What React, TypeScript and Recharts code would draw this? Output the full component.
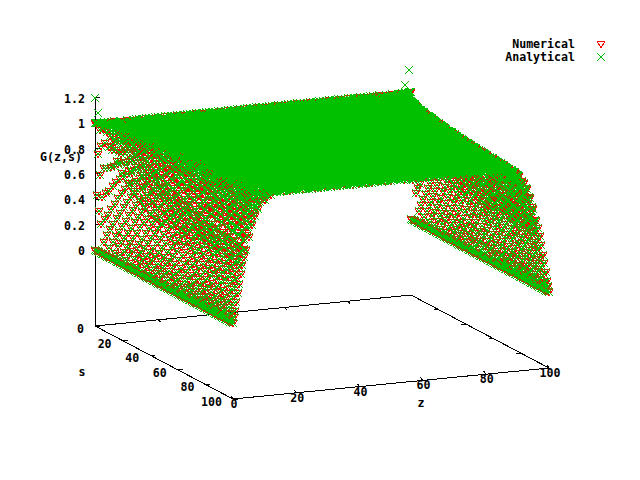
import React from "react";
import { ScatterChart, Scatter, XAxis, YAxis, Legend } from "recharts";

const RED = "#ff0000";
const GREEN = "#00c000";
const FONT = "'DejaVu Sans Mono', 'Liberation Mono', monospace";

const zTicks = [0, 20, 40, 60, 80, 100];
const sTicks = [0, 20, 40, 60, 80, 100];
const gTicks = [0, 0.2, 0.4, 0.6, 0.8, 1, 1.2];

const edgeDistances = [0.3, 0.6, 1, 1.5, 2, 2.5, 3, 3.5, 4, 5, 6, 7, 8, 10, 12];
const edgeRows: [number, number[]][] = [
  [1, [0.44, 0.76, 0.95, 1, 1, 1, 1, 1, 1, 1, 1, 1, 1, 1, 1]],
  [2, [0.32, 0.6, 0.83, 0.96, 0.99, 1, 1, 1, 1, 1, 1, 1, 1, 1, 1]],
  [4, [0.23, 0.44, 0.67, 0.86, 0.95, 0.99, 1, 1, 1, 1, 1, 1, 1, 1, 1]],
  [8, [0.16, 0.32, 0.51, 0.7, 0.83, 0.92, 0.96, 0.98, 0.99, 1, 1, 1, 1, 1, 1]],
  [12, [0.13, 0.27, 0.43, 0.6, 0.74, 0.84, 0.91, 0.95, 0.98, 1, 1, 1, 1, 1, 1]],
  [16, [0.12, 0.23, 0.38, 0.54, 0.67, 0.78, 0.86, 0.91, 0.95, 0.99, 1, 1, 1, 1, 1]],
  [20, [0.1, 0.21, 0.34, 0.49, 0.62, 0.73, 0.81, 0.87, 0.92, 0.97, 0.99, 1, 1, 1, 1]],
  [24, [0.1, 0.19, 0.31, 0.45, 0.58, 0.68, 0.77, 0.84, 0.89, 0.95, 0.98, 1, 1, 1, 1]],
  [28, [0.09, 0.18, 0.29, 0.42, 0.54, 0.65, 0.73, 0.81, 0.86, 0.94, 0.97, 0.99, 1, 1, 1]],
  [32, [0.08, 0.16, 0.27, 0.4, 0.51, 0.61, 0.7, 0.78, 0.83, 0.92, 0.96, 0.98, 0.99, 1, 1]],
  [36, [0.08, 0.16, 0.26, 0.38, 0.48, 0.59, 0.67, 0.75, 0.81, 0.9, 0.95, 0.98, 0.99, 1, 1]],
  [40, [0.07, 0.15, 0.24, 0.36, 0.47, 0.56, 0.65, 0.72, 0.79, 0.88, 0.94, 0.97, 0.99, 1, 1]],
  [44, [0.07, 0.14, 0.23, 0.34, 0.45, 0.54, 0.63, 0.7, 0.76, 0.86, 0.92, 0.96, 0.98, 1, 1]],
  [48, [0.07, 0.13, 0.22, 0.33, 0.43, 0.52, 0.6, 0.68, 0.74, 0.84, 0.91, 0.95, 0.98, 1, 1]],
  [52, [0.06, 0.13, 0.21, 0.32, 0.41, 0.5, 0.59, 0.66, 0.72, 0.83, 0.9, 0.94, 0.97, 0.99, 1]],
  [56, [0.06, 0.12, 0.21, 0.31, 0.4, 0.48, 0.57, 0.64, 0.7, 0.81, 0.88, 0.93, 0.96, 0.99, 1]],
  [60, [0.06, 0.12, 0.2, 0.3, 0.39, 0.47, 0.55, 0.63, 0.69, 0.8, 0.87, 0.92, 0.96, 0.99, 1]],
  [64, [0.06, 0.12, 0.19, 0.29, 0.38, 0.46, 0.54, 0.61, 0.67, 0.78, 0.86, 0.91, 0.95, 0.99, 1]],
  [68, [0.06, 0.11, 0.19, 0.28, 0.37, 0.45, 0.52, 0.6, 0.66, 0.76, 0.85, 0.9, 0.94, 0.98, 1]],
  [72, [0.05, 0.11, 0.18, 0.27, 0.36, 0.44, 0.51, 0.58, 0.64, 0.75, 0.83, 0.89, 0.93, 0.98, 0.99]],
  [76, [0.05, 0.11, 0.18, 0.27, 0.35, 0.43, 0.5, 0.57, 0.63, 0.74, 0.82, 0.88, 0.93, 0.98, 0.99]],
  [80, [0.05, 0.1, 0.17, 0.26, 0.34, 0.42, 0.49, 0.55, 0.62, 0.73, 0.81, 0.87, 0.92, 0.97, 0.99]],
  [84, [0.05, 0.1, 0.17, 0.25, 0.33, 0.41, 0.48, 0.55, 0.6, 0.71, 0.8, 0.87, 0.91, 0.97, 0.99]],
  [88, [0.05, 0.1, 0.17, 0.25, 0.32, 0.4, 0.47, 0.54, 0.6, 0.7, 0.79, 0.86, 0.91, 0.96, 0.99]],
  [92, [0.05, 0.1, 0.16, 0.24, 0.32, 0.39, 0.46, 0.53, 0.59, 0.7, 0.78, 0.85, 0.9, 0.96, 0.98]],
  [96, [0.05, 0.1, 0.16, 0.24, 0.31, 0.38, 0.45, 0.52, 0.58, 0.68, 0.77, 0.84, 0.89, 0.96, 0.98]],
  [100, [0.05, 0.09, 0.16, 0.23, 0.3, 0.38, 0.45, 0.51, 0.57, 0.67, 0.76, 0.83, 0.88, 0.95, 0.98]],
];

// in-between rows, sampled at the in-between distances
const midDistances = [0.15, 0.45, 0.8, 1.25, 1.75, 2.25, 2.75, 3.25, 3.75, 4.5, 5.5, 6.5, 7.5, 9, 11];
const midRows: [number, number[]][] = [
  [6, [0.1, 0.28, 0.48, 0.68, 0.84, 0.93, 0.97, 0.99, 1, 1, 1, 1, 1, 1, 1]],
  [10, [0.07, 0.22, 0.38, 0.56, 0.72, 0.84, 0.91, 0.96, 0.98, 1, 1, 1, 1, 1, 1]],
  [14, [0.06, 0.19, 0.33, 0.49, 0.64, 0.76, 0.85, 0.91, 0.95, 0.98, 1, 1, 1, 1, 1]],
  [18, [0.06, 0.16, 0.29, 0.44, 0.58, 0.7, 0.8, 0.87, 0.92, 0.96, 0.99, 1, 1, 1, 1]],
  [22, [0.05, 0.15, 0.26, 0.4, 0.54, 0.65, 0.75, 0.83, 0.88, 0.94, 0.98, 0.99, 1, 1, 1]],
  [26, [0.05, 0.14, 0.24, 0.37, 0.5, 0.61, 0.71, 0.79, 0.85, 0.92, 0.97, 0.99, 1, 1, 1]],
  [30, [0.04, 0.13, 0.22, 0.35, 0.47, 0.58, 0.67, 0.76, 0.82, 0.89, 0.95, 0.98, 0.99, 1, 1]],
  [34, [0.04, 0.12, 0.21, 0.33, 0.44, 0.55, 0.65, 0.73, 0.79, 0.87, 0.94, 0.97, 0.99, 1, 1]],
  [38, [0.04, 0.11, 0.2, 0.31, 0.42, 0.53, 0.62, 0.7, 0.77, 0.85, 0.92, 0.96, 0.98, 1, 1]],
  [42, [0.04, 0.11, 0.19, 0.3, 0.4, 0.5, 0.6, 0.67, 0.74, 0.83, 0.9, 0.95, 0.98, 0.99, 1]],
  [46, [0.03, 0.1, 0.18, 0.28, 0.39, 0.48, 0.57, 0.65, 0.72, 0.81, 0.89, 0.94, 0.97, 0.99, 1]],
  [50, [0.03, 0.1, 0.18, 0.27, 0.37, 0.47, 0.55, 0.63, 0.7, 0.79, 0.87, 0.93, 0.96, 0.99, 1]],
  [54, [0.03, 0.1, 0.17, 0.26, 0.36, 0.45, 0.54, 0.61, 0.68, 0.77, 0.86, 0.92, 0.96, 0.98, 1]],
  [58, [0.03, 0.09, 0.16, 0.25, 0.35, 0.44, 0.52, 0.6, 0.67, 0.75, 0.84, 0.9, 0.95, 0.98, 1]],
  [62, [0.03, 0.09, 0.16, 0.24, 0.34, 0.42, 0.51, 0.58, 0.65, 0.74, 0.83, 0.89, 0.94, 0.97, 0.99]],
  [66, [0.03, 0.09, 0.15, 0.24, 0.33, 0.41, 0.49, 0.57, 0.64, 0.72, 0.82, 0.88, 0.93, 0.97, 0.99]],
  [70, [0.03, 0.08, 0.15, 0.23, 0.32, 0.4, 0.48, 0.55, 0.62, 0.71, 0.81, 0.87, 0.92, 0.97, 0.99]],
  [74, [0.03, 0.08, 0.14, 0.22, 0.31, 0.39, 0.47, 0.54, 0.61, 0.7, 0.79, 0.86, 0.91, 0.96, 0.99]],
  [78, [0.03, 0.08, 0.14, 0.22, 0.3, 0.38, 0.46, 0.53, 0.6, 0.69, 0.78, 0.85, 0.9, 0.95, 0.99]],
  [82, [0.03, 0.08, 0.14, 0.21, 0.29, 0.37, 0.45, 0.52, 0.59, 0.68, 0.77, 0.84, 0.89, 0.95, 0.98]],
  [86, [0.03, 0.08, 0.13, 0.21, 0.29, 0.36, 0.44, 0.51, 0.58, 0.67, 0.76, 0.83, 0.89, 0.94, 0.98]],
  [90, [0.02, 0.07, 0.13, 0.2, 0.28, 0.36, 0.43, 0.5, 0.57, 0.66, 0.75, 0.82, 0.88, 0.94, 0.98]],
  [94, [0.02, 0.07, 0.13, 0.2, 0.28, 0.35, 0.42, 0.49, 0.56, 0.65, 0.74, 0.81, 0.87, 0.93, 0.97]],
  [98, [0.02, 0.07, 0.13, 0.2, 0.27, 0.34, 0.42, 0.48, 0.55, 0.64, 0.73, 0.8, 0.86, 0.93, 0.97]],
];

// the upper part of the flank is packed solid in the picture, so it gets two more sets of rows
const upperDistances = [2, 3, 4, 5, 6, 7, 8, 9, 10, 11, 12];
const upperRows: [number, number[]][] = [
  [3, [0.98, 1, 1, 1, 1, 1, 1, 1, 1, 1, 1]],
  [7, [0.86, 0.97, 1, 1, 1, 1, 1, 1, 1, 1, 1]],
  [11, [0.76, 0.92, 0.98, 1, 1, 1, 1, 1, 1, 1, 1]],
  [15, [0.69, 0.87, 0.96, 0.99, 1, 1, 1, 1, 1, 1, 1]],
  [19, [0.63, 0.82, 0.93, 0.98, 0.99, 1, 1, 1, 1, 1, 1]],
  [23, [0.59, 0.78, 0.9, 0.96, 0.99, 1, 1, 1, 1, 1, 1]],
  [27, [0.55, 0.74, 0.87, 0.94, 0.98, 0.99, 1, 1, 1, 1, 1]],
  [31, [0.52, 0.71, 0.84, 0.92, 0.97, 0.99, 1, 1, 1, 1, 1]],
  [35, [0.49, 0.68, 0.82, 0.9, 0.95, 0.98, 0.99, 1, 1, 1, 1]],
  [39, [0.47, 0.66, 0.79, 0.88, 0.94, 0.97, 0.99, 1, 1, 1, 1]],
  [43, [0.45, 0.63, 0.77, 0.87, 0.93, 0.96, 0.98, 0.99, 1, 1, 1]],
  [47, [0.43, 0.61, 0.75, 0.85, 0.91, 0.95, 0.98, 0.99, 1, 1, 1]],
  [51, [0.42, 0.59, 0.73, 0.83, 0.9, 0.95, 0.97, 0.99, 0.99, 1, 1]],
  [55, [0.4, 0.57, 0.71, 0.82, 0.89, 0.94, 0.97, 0.98, 0.99, 1, 1]],
  [59, [0.39, 0.55, 0.69, 0.8, 0.87, 0.93, 0.96, 0.98, 0.99, 1, 1]],
  [63, [0.38, 0.54, 0.68, 0.78, 0.86, 0.92, 0.95, 0.97, 0.99, 0.99, 1]],
  [67, [0.37, 0.52, 0.66, 0.77, 0.85, 0.91, 0.94, 0.97, 0.98, 0.99, 1]],
  [71, [0.36, 0.51, 0.65, 0.75, 0.84, 0.9, 0.94, 0.97, 0.98, 0.99, 1]],
  [75, [0.35, 0.5, 0.63, 0.74, 0.83, 0.89, 0.93, 0.96, 0.98, 0.99, 0.99]],
  [79, [0.34, 0.49, 0.62, 0.73, 0.81, 0.88, 0.92, 0.96, 0.97, 0.99, 0.99]],
  [83, [0.33, 0.48, 0.61, 0.72, 0.8, 0.87, 0.92, 0.95, 0.97, 0.98, 0.99]],
  [87, [0.32, 0.47, 0.6, 0.71, 0.79, 0.86, 0.91, 0.95, 0.97, 0.98, 0.99]],
  [91, [0.32, 0.46, 0.59, 0.7, 0.78, 0.85, 0.9, 0.94, 0.96, 0.98, 0.99]],
  [95, [0.31, 0.45, 0.58, 0.69, 0.77, 0.84, 0.89, 0.94, 0.96, 0.97, 0.98]],
  [99, [0.3, 0.44, 0.57, 0.68, 0.76, 0.83, 0.89, 0.93, 0.95, 0.97, 0.98]],
];
const upperMidDistances = [2.5, 3.5, 4.5, 5.5, 6.5, 7.5, 8.5, 9.5, 10.5, 11.5];
const upperMidRows: [number, number[]][] = [
  [5, [0.97, 1, 1, 1, 1, 1, 1, 1, 1, 1]],
  [9, [0.9, 0.98, 1, 1, 1, 1, 1, 1, 1, 1]],
  [13, [0.83, 0.94, 0.99, 1, 1, 1, 1, 1, 1, 1]],
  [17, [0.76, 0.9, 0.97, 0.99, 1, 1, 1, 1, 1, 1]],
  [21, [0.72, 0.87, 0.95, 0.98, 1, 1, 1, 1, 1, 1]],
  [25, [0.67, 0.83, 0.92, 0.97, 0.99, 1, 1, 1, 1, 1]],
  [29, [0.64, 0.8, 0.9, 0.96, 0.98, 0.99, 1, 1, 1, 1]],
  [33, [0.6, 0.77, 0.88, 0.94, 0.97, 0.99, 1, 1, 1, 1]],
  [37, [0.58, 0.74, 0.85, 0.92, 0.96, 0.98, 0.99, 1, 1, 1]],
  [41, [0.55, 0.72, 0.83, 0.91, 0.95, 0.98, 0.99, 1, 1, 1]],
  [45, [0.54, 0.69, 0.81, 0.89, 0.94, 0.97, 0.99, 0.99, 1, 1]],
  [49, [0.52, 0.67, 0.79, 0.88, 0.93, 0.97, 0.98, 0.99, 1, 1]],
  [53, [0.5, 0.66, 0.78, 0.86, 0.92, 0.96, 0.98, 0.99, 1, 1]],
  [57, [0.48, 0.63, 0.76, 0.85, 0.91, 0.95, 0.97, 0.99, 0.99, 1]],
  [61, [0.47, 0.62, 0.74, 0.83, 0.9, 0.94, 0.97, 0.98, 0.99, 1]],
  [65, [0.45, 0.6, 0.72, 0.82, 0.89, 0.93, 0.96, 0.98, 0.99, 1]],
  [69, [0.44, 0.59, 0.71, 0.81, 0.88, 0.93, 0.96, 0.98, 0.99, 0.99]],
  [73, [0.43, 0.58, 0.7, 0.8, 0.87, 0.92, 0.95, 0.97, 0.99, 0.99]],
  [77, [0.42, 0.57, 0.69, 0.78, 0.86, 0.91, 0.95, 0.97, 0.98, 0.99]],
  [81, [0.41, 0.56, 0.68, 0.77, 0.85, 0.9, 0.94, 0.97, 0.98, 0.99]],
  [85, [0.4, 0.55, 0.66, 0.76, 0.84, 0.9, 0.94, 0.96, 0.98, 0.99]],
  [89, [0.39, 0.54, 0.65, 0.75, 0.83, 0.89, 0.93, 0.96, 0.98, 0.99]],
  [93, [0.38, 0.53, 0.64, 0.74, 0.82, 0.88, 0.93, 0.95, 0.97, 0.99]],
  [97, [0.38, 0.52, 0.63, 0.73, 0.81, 0.87, 0.92, 0.95, 0.97, 0.98]],
];

// flat top of the surface, G reads 1 here
const plateauZ = [13, 14, 15, 16, 17, 18, 19, 20, 21, 22, 23, 24, 25, 26, 27, 28, 29, 30, 31, 32, 33, 34, 35, 36, 37, 38, 39, 40, 41, 42, 43, 44, 45, 46, 47, 48, 49, 50, 51, 52, 53, 54, 55, 56, 57, 58, 59, 60, 61, 62, 63, 64, 65, 66, 67, 68, 69, 70, 71, 72, 73, 74, 75, 76, 77, 78, 79, 80, 81, 82, 83, 84, 85, 86, 87];
const sValues = [0, 1, 2, 3, 4, 5, 6, 7, 8, 9, 10, 11, 12, 13, 14, 15, 16, 17, 18, 19, 20, 21, 22, 23, 24, 25, 26, 27, 28, 29, 30, 31, 32, 33, 34, 35, 36, 37, 38, 39, 40, 41, 42, 43, 44, 45, 46, 47, 48, 49, 50, 51, 52, 53, 54, 55, 56, 57, 58, 59, 60, 61, 62, 63, 64, 65, 66, 67, 68, 69, 70, 71, 72, 73, 74, 75, 76, 77, 78, 79, 80, 81, 82, 83, 84, 85, 86, 87, 88, 89, 90, 91, 92, 93, 94, 95, 96, 97, 98, 99, 100];
const backEdgeD = [0, 0.3, 0.6, 1, 1.5, 2, 3, 4, 6, 8, 10, 12];

// stray analytical crosses near s = 0: [z, s, G]
const analyticalStrays = [
  [0, 0, 1.2],
  [1, 0, 1.08],
  [99.4, 0, 1.18],
  [98.2, 0, 1.06],
];

// the gnuplot view, as screen pixels per unit of z, s and G
const project = (z: number, s: number, g: number) => ({
  x: 95 + 3.16 * z + 1.38 * s,
  y: 250 - 0.31 * z + 0.73 * s - 126.7 * g,
});

type Pt = { x: number; y: number };
const addRows = (out: Pt[], rows: [number, number[]][], dist: number[], minG = 0) => {
  rows.forEach(([s, row]) => {
    row.forEach((g, i) => {
      if (g >= minG) out.push(project(dist[i], s, g), project(100 - dist[i], s, g));
    });
  });
};

const flank: Pt[] = [];
sValues.forEach((s) => flank.push(project(0, s, 0), project(100, s, 0)));
addRows(flank, edgeRows, edgeDistances);
addRows(flank, midRows, midDistances);
addRows(flank, upperRows, upperDistances, 0.45);
addRows(flank, upperMidRows, upperMidDistances, 0.45);
backEdgeD.forEach((d) => flank.push(project(d, 0, 1), project(100 - d, 0, 1)));

// red sits under the green here, only its outer rows ever show
const numericalTop: Pt[] = [];
sValues.forEach((s) => {
  if (s % 2 === 0) plateauZ.forEach((z) => { if (z % 2 === 0) numericalTop.push(project(z, s, 1)); });
});
const analyticalTop: Pt[] = [];
sValues.forEach((s) => plateauZ.forEach((z) => analyticalTop.push(project(z, s, 1))));

const numerical = [...flank, ...numericalTop];
const analytical = [...flank, ...analyticalTop, ...analyticalStrays.map(([z, s, g]) => project(z, s, g))];

const baseBox = [
  project(0, 0, -0.6),
  project(0, 100, -0.6),
  project(100, 100, -0.6),
  project(100, 0, -0.6),
  project(0, 0, -0.6),
];
const gAxis = [project(0, 0, -0.6), project(0, 0, 1.2)];

const zTickPoints = zTicks.map((z) => ({ ...project(z, 100, -0.6), label: String(z) }));
const zBackTicks = zTicks.slice(1, 5).map((z) => project(z, 0, -0.6));
const sTickPoints = sTicks.map((s) => ({ ...project(0, s, -0.6), label: String(s) }));
const sBackTicks = sTicks.slice(1, 5).map((s) => project(100, s, -0.6));
const gTickPoints = gTicks.map((g) => ({ ...project(0, 0, g), label: String(g) }));

const label = (x: number, y: number, text: string, anchor: "start" | "middle" | "end") => (
  <text
    x={x}
    y={y}
    textAnchor={anchor}
    dominantBaseline="central"
    fontFamily={FONT}
    fontSize={11.6}
    fontWeight="bold"
    fill="#000"
  >
    {text}
  </text>
);

const triangle = (cx: number, cy: number) => (
  <path
    d={`M${cx - 4} ${cy - 3}H${cx + 4}L${cx} ${cy + 4}Z`}
    fill="none"
    stroke={RED}
    strokeWidth={1}
    shapeRendering="crispEdges"
  />
);

const cross = (cx: number, cy: number) => (
  <path
    d={`M${cx - 4} ${cy - 4}L${cx + 4} ${cy + 4}M${cx - 4} ${cy + 4}L${cx + 4} ${cy - 4}`}
    fill="none"
    stroke={GREEN}
    strokeWidth={1}
    shapeRendering="crispEdges"
  />
);

const tick = (cx: number, cy: number, dx: number, dy: number) => (
  <path d={`M${cx} ${cy}l${dx} ${dy}`} stroke="#000" strokeWidth={1} shapeRendering="crispEdges" />
);

const renderLegend = () => (
  <svg width={640} height={70} style={{ display: "block" }}>
    {label(575, 44, "Numerical", "end")}
    {triangle(601, 44)}
    {label(575, 57, "Analytical", "end")}
    {cross(601, 57)}
  </svg>
);

const noShape = () => <g />;
const lineStyle = { stroke: "#000", strokeWidth: 1, shapeRendering: "crispEdges" };

export default function App() {
  return (
    <div style={{ position: "absolute", left: 0, top: 0, width: 640, height: 480, background: "#fff" }}>
      <ScatterChart width={640} height={480} margin={{ top: 0, right: 0, bottom: 0, left: 0 }}>
        <XAxis type="number" dataKey="x" domain={[0, 640]} hide />
        <YAxis type="number" dataKey="y" domain={[0, 480]} reversed hide />
        <Legend
          layout="horizontal"
          align="center"
          verticalAlign="middle"
          content={renderLegend}
          wrapperStyle={{ position: "absolute", left: 0, top: 0, width: 640, height: 70 }}
        />

        <Scatter data={baseBox} line={lineStyle} lineType="joint" shape={noShape} legendType="none" isAnimationActive={false} />
        <Scatter data={gAxis} line={lineStyle} lineType="joint" shape={noShape} legendType="none" isAnimationActive={false} />
        <Scatter
          data={zTickPoints}
          legendType="none"
          isAnimationActive={false}
          shape={(p: any) => (
            <g>
              {tick(p.cx, p.cy, -2, -3)}
              {label(p.cx + 1, p.cy + 5, p.payload.label, "middle")}
            </g>
          )}
        />
        <Scatter data={zBackTicks} legendType="none" isAnimationActive={false} shape={(p: any) => tick(p.cx, p.cy, 2, 2)} />
        <Scatter
          data={sTickPoints}
          legendType="none"
          isAnimationActive={false}
          shape={(p: any) => (
            <g>
              {tick(p.cx, p.cy, 5, 0)}
              {label(p.cx - 11, p.cy + 3, p.payload.label, "end")}
            </g>
          )}
        />
        <Scatter data={sBackTicks} legendType="none" isAnimationActive={false} shape={(p: any) => tick(p.cx, p.cy, -5, 0)} />
        <Scatter
          data={gTickPoints}
          legendType="none"
          isAnimationActive={false}
          shape={(p: any) => (
            <g>
              {tick(p.cx, p.cy, 5, 0)}
              {label(85, p.cy + 1, p.payload.label, "end")}
            </g>
          )}
        />

        <Scatter name="Numerical" data={numerical} isAnimationActive={false} shape={(p: any) => triangle(Math.round(p.cx), Math.round(p.cy))} />
        <Scatter name="Analytical" data={analytical} isAnimationActive={false} shape={(p: any) => cross(Math.round(p.cx), Math.round(p.cy))} />

        <Scatter
          data={[{ x: 40, y: 157 }]}
          legendType="none"
          isAnimationActive={false}
          shape={(p: any) => label(p.cx, p.cy, "G(z,s)", "start")}
        />
        <Scatter
          data={[{ x: 82, y: 372 }]}
          legendType="none"
          isAnimationActive={false}
          shape={(p: any) => label(p.cx, p.cy, "s", "middle")}
        />
        <Scatter
          data={[{ x: 421, y: 403 }]}
          legendType="none"
          isAnimationActive={false}
          shape={(p: any) => label(p.cx, p.cy, "z", "middle")}
        />
      </ScatterChart>
    </div>
  );
}
